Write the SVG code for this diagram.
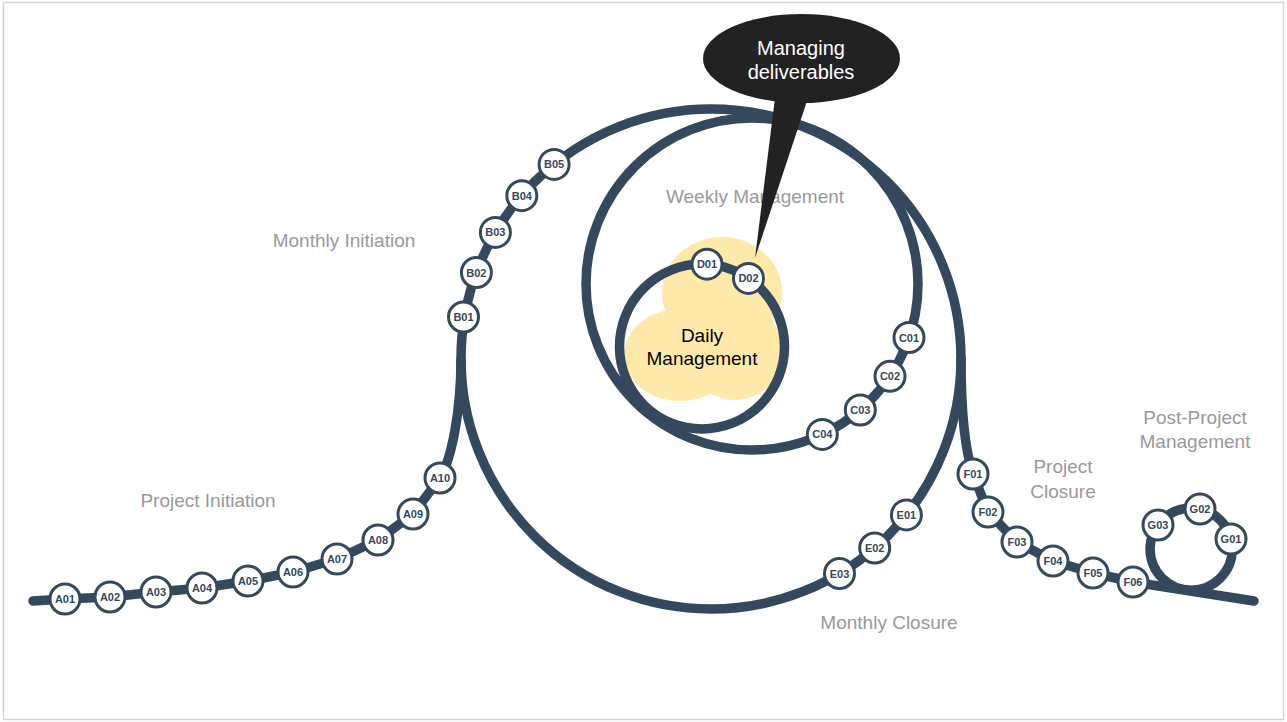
<svg xmlns="http://www.w3.org/2000/svg" width="1287" height="722" viewBox="0 0 1287 722">
<style>
.ln{fill:none;stroke:#34485e;stroke-width:9.5;stroke-linecap:round;stroke-linejoin:round}
.nd circle{fill:#fff;stroke:#34485e;stroke-width:3}
.nd text{font-family:"Liberation Sans",Arial,sans-serif;font-weight:bold;font-size:11px;fill:#34485e;text-anchor:middle}
.lbl{font-family:"Liberation Sans",Arial,sans-serif;font-size:19px;fill:#999;text-anchor:middle}
.dk{font-family:"Liberation Sans",Arial,sans-serif;font-size:19px;fill:#000;text-anchor:middle}
.wt{font-family:"Liberation Sans",Arial,sans-serif;font-size:20px;fill:#fff;text-anchor:middle}
.cl{fill:#ffe9a8}
</style>
<rect x="3.5" y="2.5" width="1280" height="717" fill="#fff" stroke="#d4d4d4" stroke-width="1.5"/>
<g id="cloud">
<ellipse class="cl" cx="722" cy="292" rx="60" ry="55"/>
<ellipse class="cl" cx="680" cy="355" rx="56" ry="46"/>
<ellipse class="cl" cx="735" cy="352" rx="48" ry="48"/>
</g>
<g id="connectors">
<circle class="ln" cx="711" cy="359" r="250"/>
<circle class="ln" cx="752" cy="284" r="166"/>
<circle class="ln" cx="702" cy="346.5" r="82.5"/>
<circle class="ln" cx="1191.2" cy="549.1" r="41.1"/>
<path class="ln" d="M33,601 L65,599 L110,597 L156,592 L202,588 L248,581 L293,572 L337,559 L378,540 L413,514 L440,478 C452,458 461,410 461,359"/>
<path class="ln" d="M961,359 C961,410 965,450 973,474 L988,512 L1017,542 L1053,561 L1093,573 L1133,582 L1254,601"/>
</g>
<g id="labels">
<text class="lbl" x="344" y="247">Monthly Initiation</text>
<text class="lbl" x="208" y="507">Project Initiation</text>
<text class="lbl" x="755" y="203">Weekly Management</text>
<text class="lbl" x="889" y="629">Monthly Closure</text>
<text class="lbl" x="1063" y="473">Project</text>
<text class="lbl" x="1063" y="498">Closure</text>
<text class="lbl" x="1195" y="424">Post-Project</text>
<text class="lbl" x="1195" y="448">Management</text>
</g>
<g id="daily-label">
<text class="dk" x="702" y="342">Daily</text>
<text class="dk" x="702" y="365">Management</text>
</g>
<g id="callout">
<polygon points="775,98 808,98 755,258" fill="#222"/>
<ellipse cx="801.5" cy="58.5" rx="98.5" ry="44.5" fill="#222"/>
<text class="wt" x="801" y="55">Managing</text>
<text class="wt" x="801" y="79">deliverables</text>
</g>
<g id="A01" class="nd" transform="translate(65,599)"><circle r="15"/><text y="4">A01</text></g>
<g id="A02" class="nd" transform="translate(110,597)"><circle r="15"/><text y="4">A02</text></g>
<g id="A03" class="nd" transform="translate(156,592)"><circle r="15"/><text y="4">A03</text></g>
<g id="A04" class="nd" transform="translate(202,588)"><circle r="15"/><text y="4">A04</text></g>
<g id="A05" class="nd" transform="translate(248,581)"><circle r="15"/><text y="4">A05</text></g>
<g id="A06" class="nd" transform="translate(293,572)"><circle r="15"/><text y="4">A06</text></g>
<g id="A07" class="nd" transform="translate(337,559)"><circle r="15"/><text y="4">A07</text></g>
<g id="A08" class="nd" transform="translate(378,540)"><circle r="15"/><text y="4">A08</text></g>
<g id="A09" class="nd" transform="translate(413,514)"><circle r="15"/><text y="4">A09</text></g>
<g id="A10" class="nd" transform="translate(440,478)"><circle r="15"/><text y="4">A10</text></g>
<g id="B01" class="nd" transform="translate(463.5,317)"><circle r="15"/><text y="4">B01</text></g>
<g id="B02" class="nd" transform="translate(476.4,272.5)"><circle r="15"/><text y="4">B02</text></g>
<g id="B03" class="nd" transform="translate(495.4,232.4)"><circle r="15"/><text y="4">B03</text></g>
<g id="B04" class="nd" transform="translate(521.8,195.7)"><circle r="15"/><text y="4">B04</text></g>
<g id="B05" class="nd" transform="translate(554.1,164.4)"><circle r="15"/><text y="4">B05</text></g>
<g id="C01" class="nd" transform="translate(909,337.5)"><circle r="15"/><text y="4">C01</text></g>
<g id="C02" class="nd" transform="translate(890,376.3)"><circle r="15"/><text y="4">C02</text></g>
<g id="C03" class="nd" transform="translate(860.3,410)"><circle r="15"/><text y="4">C03</text></g>
<g id="C04" class="nd" transform="translate(822.3,434.4)"><circle r="15"/><text y="4">C04</text></g>
<g id="D01" class="nd" transform="translate(707,264.2)"><circle r="15"/><text y="4">D01</text></g>
<g id="D02" class="nd" transform="translate(748.5,278.4)"><circle r="15"/><text y="4">D02</text></g>
<g id="E01" class="nd" transform="translate(906.4,514.9)"><circle r="15"/><text y="4">E01</text></g>
<g id="E02" class="nd" transform="translate(874.7,548)"><circle r="15"/><text y="4">E02</text></g>
<g id="E03" class="nd" transform="translate(839.5,573.5)"><circle r="15"/><text y="4">E03</text></g>
<g id="F01" class="nd" transform="translate(973,474)"><circle r="15"/><text y="4">F01</text></g>
<g id="F02" class="nd" transform="translate(988,512)"><circle r="15"/><text y="4">F02</text></g>
<g id="F03" class="nd" transform="translate(1017,542)"><circle r="15"/><text y="4">F03</text></g>
<g id="F04" class="nd" transform="translate(1053,561)"><circle r="15"/><text y="4">F04</text></g>
<g id="F05" class="nd" transform="translate(1093,573)"><circle r="15"/><text y="4">F05</text></g>
<g id="F06" class="nd" transform="translate(1133,582)"><circle r="15"/><text y="4">F06</text></g>
<g id="G01" class="nd" transform="translate(1231,539)"><circle r="15"/><text y="4">G01</text></g>
<g id="G02" class="nd" transform="translate(1200,509)"><circle r="15"/><text y="4">G02</text></g>
<g id="G03" class="nd" transform="translate(1158,525)"><circle r="15"/><text y="4">G03</text></g>
</svg>
